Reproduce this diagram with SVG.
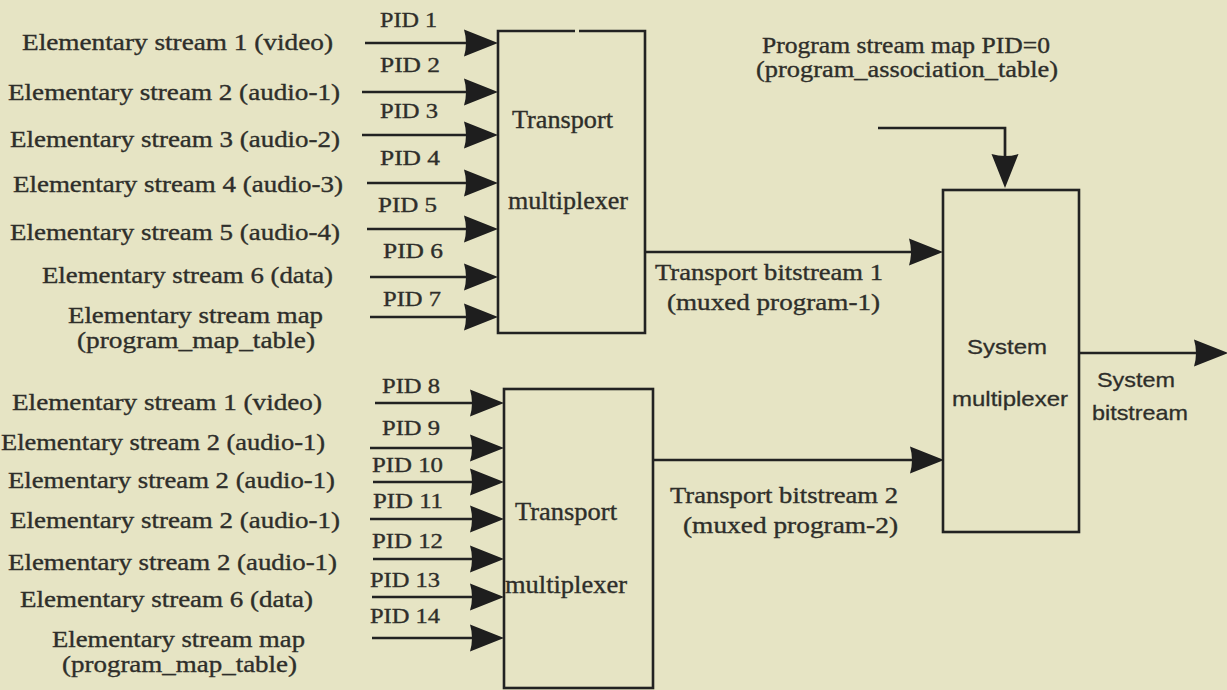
<svg xmlns="http://www.w3.org/2000/svg" width="1227" height="690" viewBox="0 0 1227 690">
<style>
.bg{fill:#e6e4c4}
.s{font-family:"Liberation Serif","Times New Roman",serif;font-size:23px;fill:#2e2e2a;stroke:#2e2e2a;stroke-width:0.35}
.p{font-family:"Liberation Serif","Times New Roman",serif;font-size:21px;fill:#2e2e2a;stroke:#2e2e2a;stroke-width:0.35}
.b{font-family:"Liberation Serif","Times New Roman",serif;font-size:25px;fill:#2e2e2a;stroke:#2e2e2a;stroke-width:0.35}
.h{font-family:"Liberation Sans",Arial,sans-serif;font-size:21px;fill:#2e2e2a;stroke:#2e2e2a;stroke-width:0.3}
.box{fill:none;stroke:#222;stroke-width:2.6}
.ln{fill:none;stroke:#222;stroke-width:2.7;marker-end:url(#ah)}
</style>
<defs>
<marker id="ah" viewBox="0 -14 34 28" markerWidth="34" markerHeight="28" markerUnits="userSpaceOnUse" refX="8" refY="0" orient="auto">
<path d="M0,-13.5 L34,0 L0,13.5 Q4,0 0,-13.5 z" fill="#1e1e1e"/>
</marker>
</defs>
<rect class="bg" x="0" y="0" width="1227" height="690"/>

<g id="inputs-top">
<text class="s" x="22" y="50" textLength="311" lengthAdjust="spacingAndGlyphs">Elementary stream 1 (video)</text>
<text class="s" x="8" y="100" textLength="332" lengthAdjust="spacingAndGlyphs">Elementary stream 2 (audio-1)</text>
<text class="s" x="10" y="147" textLength="330" lengthAdjust="spacingAndGlyphs">Elementary stream 3 (audio-2)</text>
<text class="s" x="13" y="192" textLength="330" lengthAdjust="spacingAndGlyphs">Elementary stream 4 (audio-3)</text>
<text class="s" x="10" y="240" textLength="330" lengthAdjust="spacingAndGlyphs">Elementary stream 5 (audio-4)</text>
<text class="s" x="42" y="283" textLength="291" lengthAdjust="spacingAndGlyphs">Elementary stream 6 (data)</text>
<text class="s" x="68" y="323" textLength="255" lengthAdjust="spacingAndGlyphs">Elementary stream map</text>
<text class="s" x="77" y="348" textLength="238" lengthAdjust="spacingAndGlyphs">(program_map_table)</text>
<text class="p" x="380" y="27" textLength="57" lengthAdjust="spacingAndGlyphs">PID 1</text>
<text class="p" x="380" y="72" textLength="60" lengthAdjust="spacingAndGlyphs">PID 2</text>
<text class="p" x="380" y="118" textLength="58" lengthAdjust="spacingAndGlyphs">PID 3</text>
<text class="p" x="380" y="165" textLength="60" lengthAdjust="spacingAndGlyphs">PID 4</text>
<text class="p" x="378" y="212" textLength="59" lengthAdjust="spacingAndGlyphs">PID 5</text>
<text class="p" x="383" y="258" textLength="60" lengthAdjust="spacingAndGlyphs">PID 6</text>
<text class="p" x="383" y="306" textLength="58" lengthAdjust="spacingAndGlyphs">PID 7</text>
</g>

<g id="inputs-bottom">
<text class="s" x="12" y="410" textLength="310" lengthAdjust="spacingAndGlyphs">Elementary stream 1 (video)</text>
<text class="s" x="1" y="450" textLength="324" lengthAdjust="spacingAndGlyphs">Elementary stream 2 (audio-1)</text>
<text class="s" x="8" y="488" textLength="327" lengthAdjust="spacingAndGlyphs">Elementary stream 2 (audio-1)</text>
<text class="s" x="10" y="528" textLength="330" lengthAdjust="spacingAndGlyphs">Elementary stream 2 (audio-1)</text>
<text class="s" x="8" y="570" textLength="329" lengthAdjust="spacingAndGlyphs">Elementary stream 2 (audio-1)</text>
<text class="s" x="20" y="607" textLength="293" lengthAdjust="spacingAndGlyphs">Elementary stream 6 (data)</text>
<text class="s" x="52" y="647" textLength="253" lengthAdjust="spacingAndGlyphs">Elementary stream map</text>
<text class="s" x="62" y="672" textLength="235" lengthAdjust="spacingAndGlyphs">(program_map_table)</text>
<text class="p" x="382" y="393" textLength="58" lengthAdjust="spacingAndGlyphs">PID 8</text>
<text class="p" x="382" y="435" textLength="58" lengthAdjust="spacingAndGlyphs">PID 9</text>
<text class="p" x="372" y="472" textLength="71" lengthAdjust="spacingAndGlyphs">PID 10</text>
<text class="p" x="373" y="508" textLength="70" lengthAdjust="spacingAndGlyphs">PID 11</text>
<text class="p" x="372" y="548" textLength="71" lengthAdjust="spacingAndGlyphs">PID 12</text>
<text class="p" x="370" y="587" textLength="70" lengthAdjust="spacingAndGlyphs">PID 13</text>
<text class="p" x="370" y="623" textLength="70" lengthAdjust="spacingAndGlyphs">PID 14</text>
</g>

<g id="transport-mux-1">
<path class="box" d="M575,31 H498 V333 H645 V31 H579"/>
<text class="b" x="512" y="128" textLength="101" lengthAdjust="spacingAndGlyphs">Transport</text>
<text class="b" x="508" y="209" textLength="120" lengthAdjust="spacingAndGlyphs">multiplexer</text>
</g>

<g id="transport-mux-2">
<rect class="box" x="504" y="389" width="149" height="299"/>
<text class="b" x="515" y="520" textLength="102" lengthAdjust="spacingAndGlyphs">Transport</text>
<text class="b" x="505" y="593" textLength="122" lengthAdjust="spacingAndGlyphs">multiplexer</text>
</g>

<g id="system-mux">
<rect class="box" x="943" y="190" width="136" height="342"/>
<text class="h" x="967" y="354" textLength="80" lengthAdjust="spacingAndGlyphs">System</text>
<text class="h" x="952" y="406" textLength="116" lengthAdjust="spacingAndGlyphs">multiplexer</text>
</g>

<g id="labels">
<text class="s" x="655" y="280" textLength="228" lengthAdjust="spacingAndGlyphs">Transport bitstream 1</text>
<text class="s" x="667" y="310" textLength="213" lengthAdjust="spacingAndGlyphs">(muxed program-1)</text>
<text class="s" x="670" y="503" textLength="228" lengthAdjust="spacingAndGlyphs">Transport bitstream 2</text>
<text class="s" x="683" y="533" textLength="215" lengthAdjust="spacingAndGlyphs">(muxed program-2)</text>
<text class="s" x="762" y="53" textLength="288" lengthAdjust="spacingAndGlyphs">Program stream map PID=0</text>
<text class="s" x="756" y="77" textLength="302" lengthAdjust="spacingAndGlyphs">(program_association_table)</text>
<text class="h" x="1097" y="387" textLength="78" lengthAdjust="spacingAndGlyphs">System</text>
<text class="h" x="1092" y="420" textLength="96" lengthAdjust="spacingAndGlyphs">bitstream</text>
</g>

<g id="connectors">
<line class="ln" x1="365" y1="43" x2="472" y2="43"/>
<line class="ln" x1="362" y1="92" x2="472" y2="92"/>
<line class="ln" x1="362" y1="135" x2="472" y2="135"/>
<line class="ln" x1="367" y1="183" x2="472" y2="183"/>
<line class="ln" x1="367" y1="229" x2="472" y2="229"/>
<line class="ln" x1="370" y1="277" x2="472" y2="277"/>
<line class="ln" x1="370" y1="317" x2="472" y2="317"/>
<line class="ln" x1="375" y1="403" x2="478" y2="403"/>
<line class="ln" x1="370" y1="448" x2="478" y2="448"/>
<line class="ln" x1="373" y1="482" x2="478" y2="482"/>
<line class="ln" x1="370" y1="519" x2="478" y2="519"/>
<line class="ln" x1="373" y1="559" x2="478" y2="559"/>
<line class="ln" x1="372" y1="597" x2="478" y2="597"/>
<line class="ln" x1="372" y1="638" x2="478" y2="638"/>
<line class="ln" x1="645" y1="252" x2="917" y2="252"/>
<line class="ln" x1="653" y1="460" x2="918" y2="460"/>
<line class="ln" x1="1079" y1="353" x2="1202" y2="353"/>
<path class="ln" d="M878,128 H1005 V162"/>
</g>
</svg>
